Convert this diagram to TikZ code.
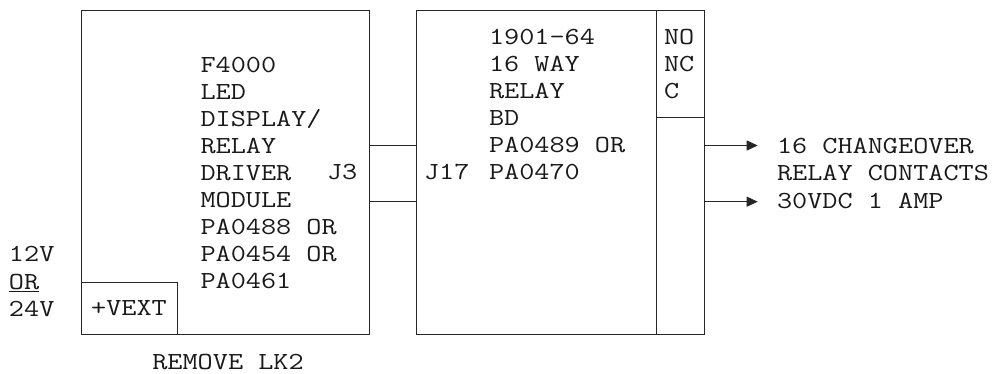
\documentclass[tikz,border=0pt]{standalone}
\usepackage{fontspec}
\newfontfamily\monofont{Latin Modern Mono}[FakeStretch=1.2]
\usetikzlibrary{arrows.meta}
\begin{document}
\begin{tikzpicture}[x=1pt,y=-1pt, line width=1pt,
  every node/.style={font=\monofont\fontsize{24.5}{27}\selectfont, text=black!90},
  box/.style={draw=black!85, inner sep=0pt, outer sep=0pt, anchor=north west},
  txt/.style={inner sep=0pt, outer sep=0pt, anchor=base west, align=left},
  arr/.style={draw=black!85, -{Triangle[length=11pt,width=10pt]}},
  wire/.style={draw=black!85}]
\useasboundingbox (0,0) rectangle (1003,374);
% boxes
\node[box, minimum width=288.5pt, minimum height=323pt] (lbox) at (81,11) {};
\node[box, minimum width=96pt, minimum height=52pt] (vext) at (81,282) {+VEXT};
\node[box, minimum width=240pt, minimum height=323pt] (mbox) at (416.5,11) {};
\node[box, minimum width=48.2pt, minimum height=107pt] (cbox) at (656.5,11) {};
\node[box, minimum width=48.2pt, minimum height=216pt] (sbox) at (656.5,118) {};
% texts (anchor = baseline of the last line)
\node[txt] (ltext) at (200.5,288) {F4000\\LED\\DISPLAY/\\RELAY\\DRIVER\\MODULE\\PA0488 OR\\PA0454 OR\\PA0461};
\node[txt] (j3) at (327,179.7) {J3};
\node[txt] (mtext) at (489,179.8) {1901-64\\16 WAY\\RELAY\\BD\\PA0489 OR\\PA0470};
\node[txt] (j17) at (424,179.8) {J17};
\node[txt] (ctext) at (664,98.8) {NO\\NC\\C};
\node[txt, font=\monofont\fontsize{24.5}{27.5}\selectfont] (volt) at (9,316.7) {12V\\\underline{OR}\\24V};
\node[txt] (lk2) at (152.3,369.3) {REMOVE LK2};
\node[txt, font=\monofont\fontsize{24.5}{27.5}\selectfont] (out) at (777,208.3) {16 CHANGEOVER\\RELAY CONTACTS\\30VDC 1 AMP};
% connectors
\coordinate (y1) at (0,145.5);
\coordinate (y2) at (0,201.7);
\coordinate (t1) at (757.7,145.5);
\coordinate (t2) at (757.7,201.7);
\draw[wire] (lbox.east |- y1) -- (mbox.west |- y1);
\draw[wire] (lbox.east |- y2) -- (mbox.west |- y2);
\draw[arr] (sbox.east |- t1) -- (t1);
\draw[arr] (sbox.east |- t2) -- (t2);
\end{tikzpicture}
\end{document}
